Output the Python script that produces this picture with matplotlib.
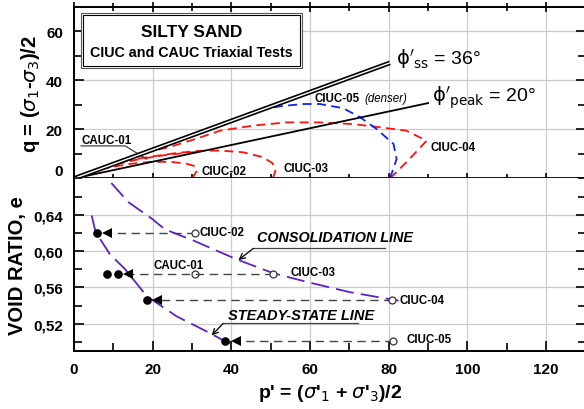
import numpy as np
import matplotlib
matplotlib.use("Agg")
import matplotlib.pyplot as plt
from matplotlib.patches import Rectangle
from matplotlib.ticker import MultipleLocator, FuncFormatter

plt.rcParams['font.family'] = ['Liberation Sans', 'DejaVu Sans']
plt.rcParams['mathtext.fontset'] = 'dejavusans'

# failure envelopes (friction angles, degrees) and end of drawn lines
phi_ss, phi_peak = 36, 20
p_ss_end, p_peak_end = 80.3, 90.0

# stress paths (p', q)
cauc01_p = [31, 28, 22, 16, 11, 8.5]
cauc01_q = [10.8, 10.4, 9.3, 7.7, 5.9, 5.0]
ciuc02_p = [30, 31.2, 30.8, 28.5, 24.5, 19.5, 14, 10, 6]
ciuc02_q = [0, 3.0, 5.0, 6.1, 6.8, 6.8, 5.9, 4.8, 3.5]
ciuc03_p = [50.5, 51.2, 50.5, 48, 43, 37, 32, 26, 20, 15, 11.3]
ciuc03_q = [0, 3.0, 6.2, 8.7, 10.7, 11.4, 11.3, 10.4, 9.0, 7.8, 6.6]
ciuc04_p = [80.3, 85, 89.6, 84.5, 77.8, 71, 62.5, 54, 45.6, 37.1, 31.2, 24.4, 19]
ciuc04_q = [0, 7.5, 15.4, 19.5, 20.9, 22.2, 22.9, 22.9, 21.6, 19.5, 16.3, 12.9, 10.9]
ciuc05_p = [80.3, 82, 81.2, 76.9, 72.7, 68.4, 62.5, 58.3, 52.4, 46.4, 42, 38.5]
ciuc05_q = [0, 8, 14.1, 20.2, 25, 28.7, 30.4, 30.4, 29.5, 27.6, 24.7, 22.6]

# void ratio plane
cons_p = [9.5, 13.8, 19.7, 23.1, 30.7, 41.3, 50.7, 60, 70.1, 80.7, 82.5]
cons_e = [0.675, 0.654, 0.636, 0.624, 0.611, 0.591, 0.5756, 0.5652, 0.5548, 0.5467, 0.5455]
ssl_p = [4.5, 5.3, 5.8, 9.1, 13, 18.5, 26.1, 34.6, 38.5, 39.6]
ssl_e = [0.6392, 0.6244, 0.619, 0.5967, 0.58, 0.5504, 0.5281, 0.5096, 0.5003, 0.4985]

test_names = ['CIUC-02', 'CAUC-01', 'CIUC-03', 'CIUC-04', 'CIUC-05']
p_start = [30.7, 30.7, 50.7, 80.7, 81.2]
p_steady = [5.8, 8.5, 11.1, 18.6, 38.5]
e_test = [0.6197, 0.5744, 0.5744, 0.5467, 0.5005]
has_arrow = [True, False, True, True, True]

red = '#ff1010'
blue = '#1020ff'
purple = '#5a22c8'

fig = plt.figure(figsize=(5.84, 4.10), dpi=100)
ax1 = fig.add_axes([0.1267, 0.5622, 0.8759, 0.4183])
ax2 = fig.add_axes([0.1267, 0.1415, 0.8759, 0.4207])

for ax in (ax1, ax2):
    ax.set_xlim(0, 130)
    ax.xaxis.set_major_locator(MultipleLocator(20))
    ax.xaxis.set_minor_locator(MultipleLocator(10))
    ax.grid(True, which='major', color='#cccccc', lw=0.9)
    ax.set_axisbelow(True)
    for s in ax.spines.values():
        s.set_linewidth(1.4)
    ax.tick_params(which='both', direction='in', right=True, width=1.2,
                   labelsize=11, pad=8)
    ax.tick_params(which='major', length=7)
    ax.tick_params(which='minor', length=6)

# ---------------- top: stress paths ----------------
ax1.set_ylim(0, 70)
ax1.set_yticks([0, 20, 40, 60])
ax1.yaxis.set_minor_locator(MultipleLocator(10))
ax1.tick_params(which='both', top=True, labelbottom=False)
ax1.tick_params(axis='x', which='both', direction='inout', bottom=True)
ax1.spines['bottom'].set_linewidth(2)
for lbl in ax1.get_yticklabels():
    lbl.set_fontweight('bold')
ax1.yaxis.get_major_ticks()[0].label1.set_verticalalignment('bottom')

dash = (0, (5, 3))
ax1.plot(cauc01_p, cauc01_q, color=red, lw=1.3, ls=dash)
ax1.plot(ciuc02_p, ciuc02_q, color=red, lw=1.3, ls=dash)
ax1.plot(ciuc03_p, ciuc03_q, color=red, lw=1.3, ls=dash)
ax1.plot(ciuc04_p, ciuc04_q, color=red, lw=1.3, ls=dash)
ax1.plot(ciuc05_p, ciuc05_q, color=blue, lw=1.3, ls=dash)

pp = np.array([0, p_ss_end])
ax1.plot(pp, pp * np.sin(np.radians(phi_ss)), color='black', lw=3.4, solid_capstyle='butt', zorder=5)
ax1.plot(pp, pp * np.sin(np.radians(phi_ss)), color='white', lw=1.0, solid_capstyle='butt', zorder=5)
pk = np.array([0, p_peak_end])
ax1.plot(pk, pk * np.sin(np.radians(phi_peak)), color='black', lw=1.3, zorder=4)

# title box
ax1.add_patch(Rectangle((1.8, 45.0), 56.2, 22.6, facecolor='white', edgecolor='#555555', lw=0.8, zorder=3))
ax1.add_patch(Rectangle((2.3, 45.8), 55.2, 21.0, facecolor='white', edgecolor='black', lw=0.8, zorder=3))
ax1.text(29.9, 60.2, 'SILTY SAND', ha='center', va='center', fontsize=12.5, fontweight='bold', zorder=4)
ax1.text(29.9, 51.8, 'CIUC and CAUC Triaxial Tests', ha='center', va='center', fontsize=10.3, fontweight='bold', zorder=4)

ax1.text(81.8, 49, r"$\mathrm{\phi}'_{\mathrm{ss}}$ = 36°", fontsize=14, va='center', ha='left')
ax1.text(90.9, 33.5, r"$\mathrm{\phi}'_{\mathrm{peak}}$ = 20°", fontsize=14, va='center', ha='left')

lab = dict(fontsize=8.3, fontweight='bold', va='center')
ax1.text(1.8, 15.7, 'CAUC-01', **lab)
ax1.plot([1.8, 13.0, 18.5], [13.3, 13.3, 7.9], color='#444444', lw=0.9)
ax1.text(32.4, 3.2, 'CIUC-02', **lab)
ax1.text(53.2, 4.2, 'CIUC-03', **lab)
ax1.text(90.6, 13.0, 'CIUC-04', **lab)
ax1.text(61.2, 32.7, 'CIUC-05', **lab)
ax1.text(73.7, 32.7, '(denser)', fontsize=8.3, fontstyle='italic', va='center')
ax1.set_ylabel(r'q = ($\sigma_1$-$\sigma_3$)/2', fontsize=14.5, fontweight='bold', labelpad=3)

# ---------------- bottom: void ratio ----------------
ax2.set_ylim(0.49, 0.68)
ax2.set_yticks([0.52, 0.56, 0.60, 0.64])
ax2.yaxis.set_minor_locator(MultipleLocator(0.02))
ax2.yaxis.set_major_formatter(FuncFormatter(lambda v, _: f'{v:.2f}'.replace('.', ',')))
ax2.tick_params(which='both', top=False)
ax2.spines['top'].set_visible(False)
for lbl in ax2.get_yticklabels() + ax2.get_xticklabels():
    lbl.set_fontweight('bold')

ldash = (0, (10, 4))
ax2.plot(cons_p, cons_e, color=purple, lw=1.3, ls=ldash)
ax2.plot(ssl_p, ssl_e, color=purple, lw=1.3, ls=ldash)

for name, p0, p1, e, arr in zip(test_names, p_start, p_steady, e_test, has_arrow):
    if arr:
        ax2.plot([p0, p1 + 2.6], [e, e], color='#444444', lw=1.0, ls=(0, (6, 4)))
        ax2.plot(p1 + 2.6, e, marker='<', color='black', ms=7, mew=0)
    ax2.plot(p0, e, marker='o', mfc='white', mec='#333333', ms=5, mew=0.9)
    ax2.plot(p1, e, marker='o', color='black', ms=5.2)

lab2 = dict(fontsize=8.3, fontweight='bold', va='center')
ax2.text(32.0, 0.6214, 'CIUC-02', **lab2)
ax2.text(20.2, 0.5844, 'CAUC-01', **lab2)
ax2.text(55.1, 0.5770, 'CIUC-03', **lab2)
ax2.text(82.6, 0.5467, 'CIUC-04', **lab2)
ax2.text(84.4, 0.5033, 'CIUC-05', **lab2)

ax2.text(46.4, 0.6159, 'CONSOLIDATION LINE', fontsize=10.4, fontweight='bold', fontstyle='italic', va='center')
ax2.plot([45.6, 79.0], [0.603, 0.603], color='#444444', lw=0.9)
ax2.annotate('', xy=(41.8, 0.5903), xytext=(45.6, 0.603),
             arrowprops=dict(arrowstyle='->', color='black', lw=0.9, shrinkA=0, shrinkB=0))
ax2.text(39.2, 0.5292, 'STEADY-STATE LINE', fontsize=10.5, fontweight='bold', fontstyle='italic', va='center')
ax2.plot([37.9, 72.3], [0.5203, 0.5203], color='#444444', lw=0.9)
ax2.annotate('', xy=(35.0, 0.5072), xytext=(37.9, 0.5203),
             arrowprops=dict(arrowstyle='->', color='black', lw=0.9, shrinkA=0, shrinkB=0))

ax2.set_ylabel('VOID RATIO, e', fontsize=14.5, fontweight='bold', labelpad=4)
ax2.set_xlabel(r"p' = ($\sigma$'$_1$ + $\sigma$'$_3$)/2", fontsize=14, fontweight='bold', labelpad=4)

fig.savefig('out.png', dpi=100)
